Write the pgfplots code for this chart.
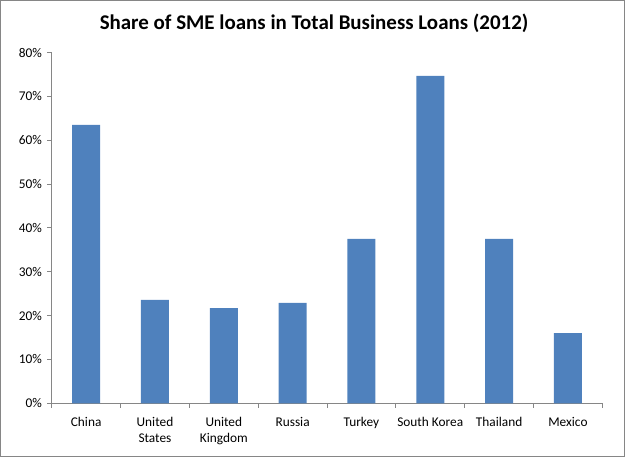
\documentclass[border=0pt]{standalone}
\usepackage{fontspec}
\setmainfont{Carlito}
\usepackage{pgfplots}
\pgfplotsset{compat=1.18}

\definecolor{barblue}{RGB}{79,129,189}
\definecolor{axisgray}{RGB}{134,134,134}

\begin{document}
\begin{tikzpicture}
% chart area border (625 x 457 px at 0.75pt per px)
\draw[axisgray, line width=0.75pt] (0.375pt,0.375pt) rectangle (468.375pt,342.375pt);
\node[font=\fontsize{15.7}{18}\selectfont\bfseries, anchor=center] at (235.5pt,325.3pt)
  {Share of SME loans in Total Business Loans (2012)};

\begin{axis}[
  at={(38.8pt,40.3pt)}, anchor=south west,
  scale only axis,
  width=412.95pt, height=262.95pt,
  ybar, bar width=21pt,
  xmin=-0.5, xmax=7.5,
  ymin=0, ymax=80,
  axis lines*=left,
  axis line style={axisgray, line width=0.75pt, -},
  xtick={0,...,7},
  xticklabels={China,{United\\States},{United\\Kingdom},Russia,Turkey,{South Korea},Thailand,Mexico},
  major x tick style={draw=none},
  minor xtick={-0.5,0.5,...,7.5},
  minor x tick style={axisgray, line width=0.75pt},
  minor tick length=3.4pt,
  ytick={0,10,...,80},
  yticklabels={0\%,10\%,20\%,30\%,40\%,50\%,60\%,70\%,80\%},
  y tick style={axisgray, line width=0.75pt},
  major tick length=3.4pt,
  tick align=outside,
  tick pos=left,
  xticklabel style={align=center, font=\fontsize{10}{12}\selectfont, text=black, yshift=-3.5pt},
  yticklabel style={font=\fontsize{10}{12}\selectfont, text=black, xshift=-0.5pt},
  /pgf/number format/assume math mode=true,
]
\addplot[fill=barblue, draw=none] coordinates {
  (0,63.5) (1,23.6) (2,21.7) (3,22.9) (4,37.5) (5,74.7) (6,37.5) (7,16.0)
};
\end{axis}
\end{tikzpicture}
\end{document}
